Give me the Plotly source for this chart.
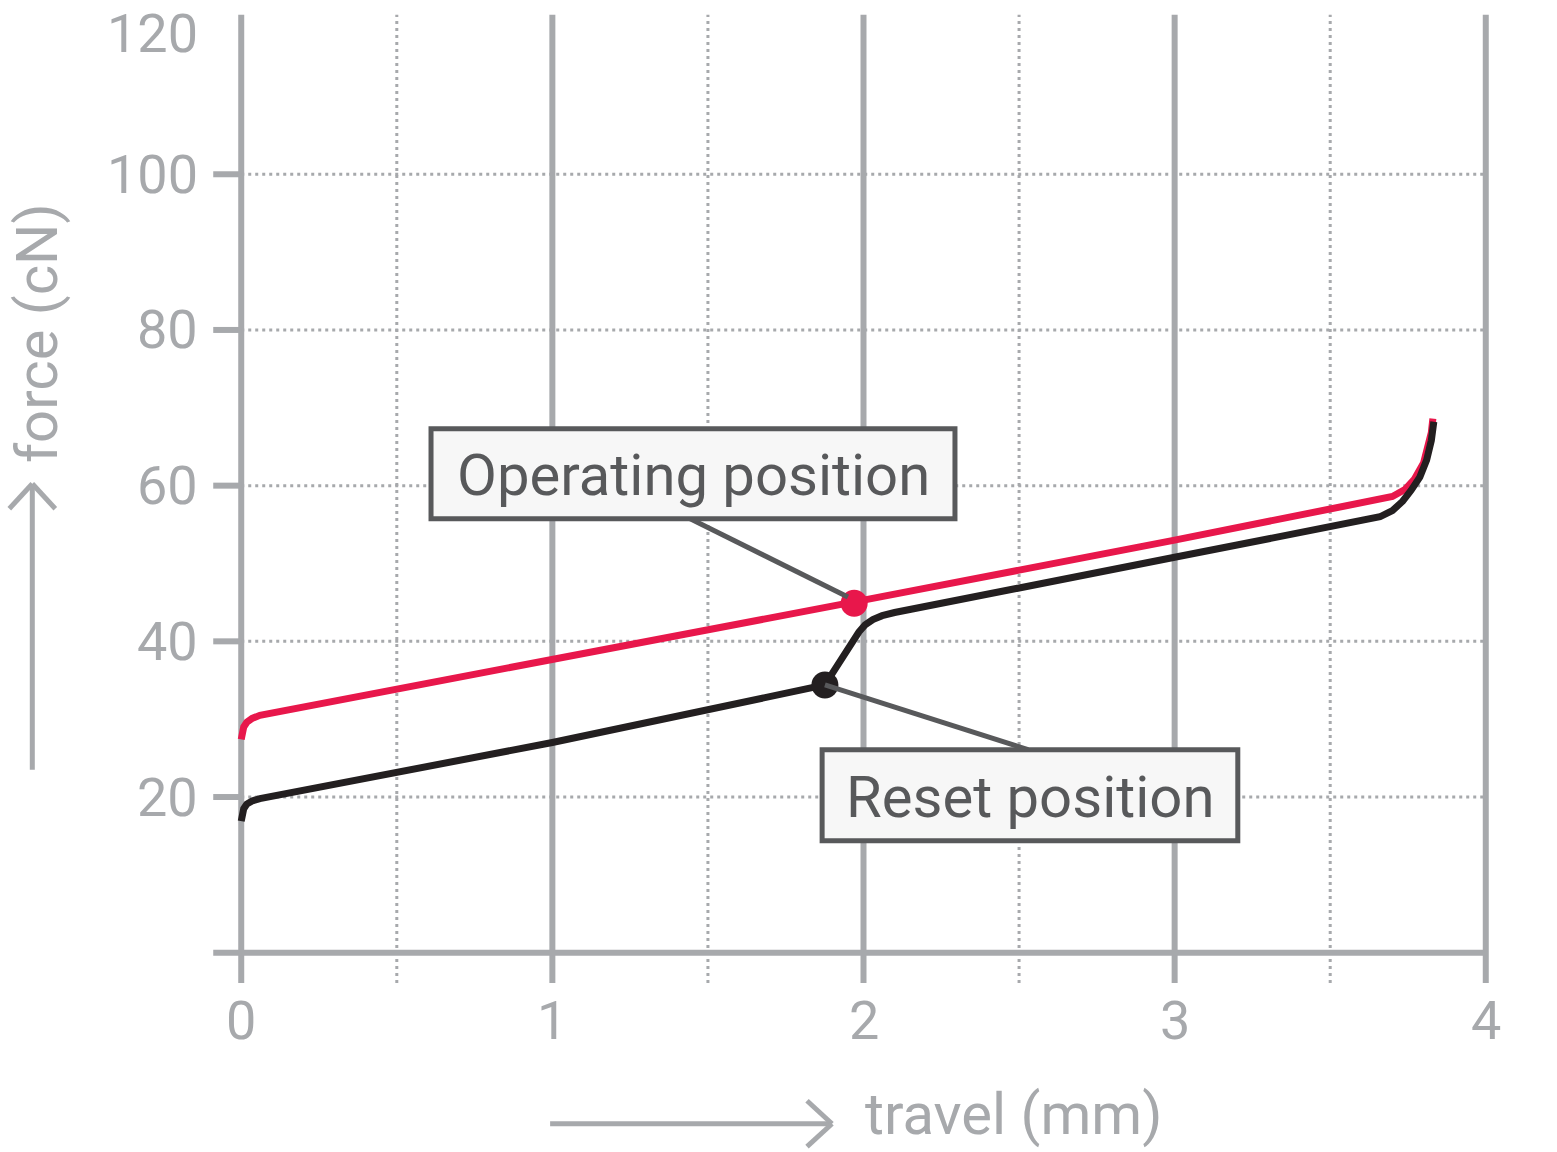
import plotly.graph_objects as go

# ---------------- data ----------------
operating_x = [0, 0.002, 0.008, 0.018, 0.035, 0.06, 1.0, 2.0, 3.0, 3.6, 3.70, 3.74, 3.77, 3.80, 3.815, 3.825, 3.83]
operating_y = [27.4, 28.3, 29.0, 29.6, 30.1, 30.5, 37.6, 45.3, 53.0, 57.7, 58.6, 59.5, 60.8, 62.9, 64.8, 66.8, 68.6]

reset_x = [0, 0.002, 0.008, 0.018, 0.035, 0.06, 1.0, 1.876, 1.96, 1.985, 2.005, 2.03, 2.06, 2.1, 3.0, 3.6, 3.66,
           3.70, 3.733, 3.76, 3.788, 3.81, 3.825, 3.833]
reset_y = [16.9, 17.8, 18.5, 19.1, 19.5, 19.8, 27.0, 34.4, 39.8, 41.2, 42.1, 42.8, 43.3, 43.7, 50.8, 55.4, 56.0,
           56.8, 58.0, 59.4, 61.1, 63.3, 65.8, 68.2]

operating_point = (1.97, 44.9)
reset_point = (1.876, 34.4)

x_ticks = [0, 1, 2, 3, 4]
x_minor = [0.5, 1.5, 2.5, 3.5]
y_ticks = [20, 40, 60, 80, 100]
y_labels = [20, 40, 60, 80, 100, 120]

# ---------------- styles ----------------
GRAY = "#a7a9ac"
DARK = "#58595b"
RED = "#e8174b"
BLACK = "#231f20"
FONT = "Roboto"

W, H = 1557, 1152
XS = 311.25   # px per mm
YS = 7.785    # px per cN
X0_PX = 241   # px of x=0
Y0_PX = 953   # px of y=0

X0, X1 = -0.2, 4.2
Y0, Y1 = -8, 122
ML = X0_PX + X0 * XS
PW = (X1 - X0) * XS
MR = W - ML - PW
MT = Y0_PX - Y1 * YS
PH = (Y1 - Y0) * YS
MB = H - MT - PH


def px2paper(px, py):
    """page pixel -> paper coordinates"""
    return (px - ML) / PW, (H - MB - py) / PH


fig = go.Figure()

shapes = []
for xv in x_ticks:
    shapes.append(dict(type="line", xref="x", yref="y", x0=xv, x1=xv, y0=-3.9, y1=120.5,
                       line=dict(color=GRAY, width=6), layer="below"))
for xv in x_minor:
    shapes.append(dict(type="line", xref="x", yref="y", x0=xv, x1=xv, y0=-3.9, y1=120.5,
                       line=dict(color=GRAY, width=3, dash="3px,4px"), layer="below"))
for yv in y_ticks:
    shapes.append(dict(type="line", xref="x", yref="y", x0=0, x1=4, y0=yv, y1=yv,
                       line=dict(color=GRAY, width=3, dash="3px,4px"), layer="below"))
    shapes.append(dict(type="line", xref="x", yref="y", x0=-0.09, x1=0, y0=yv, y1=yv,
                       line=dict(color=GRAY, width=6), layer="below"))
shapes.append(dict(type="line", xref="x", yref="y", x0=-0.09, x1=4.0, y0=0, y1=0,
                   line=dict(color=GRAY, width=6), layer="below"))

# label boxes
shapes.append(dict(type="rect", xref="x", yref="y", x0=0.610, x1=2.294, y0=55.75, y1=67.3,
                   line=dict(color=DARK, width=5), fillcolor="#f7f7f7", layer="above"))
shapes.append(dict(type="rect", xref="x", yref="y", x0=1.867, x1=3.203, y0=14.39, y1=26.08,
                   line=dict(color=DARK, width=5), fillcolor="#f7f7f7", layer="above"))


def seg(p1, p2, width=5):
    a = px2paper(*p1)
    b = px2paper(*p2)
    return dict(type="line", xref="paper", yref="paper", x0=a[0], y0=a[1], x1=b[0], y1=b[1],
                line=dict(color=GRAY, width=width))


shapes.append(seg((550, 1124), (831, 1124)))
shapes.append(seg((807, 1101), (832, 1124)))
shapes.append(seg((807, 1147), (832, 1124)))
shapes.append(seg((32, 770), (32, 485)))
shapes.append(seg((9, 509), (32, 484)))
shapes.append(seg((55, 509), (32, 484)))

fig.add_trace(go.Scatter(x=operating_x, y=operating_y, mode="lines",
                         line=dict(color=RED, width=7), hoverinfo="skip"))
fig.add_trace(go.Scatter(x=reset_x, y=reset_y, mode="lines",
                         line=dict(color=BLACK, width=7), hoverinfo="skip"))
fig.add_trace(go.Scatter(x=[operating_point[0]], y=[operating_point[1]], mode="markers",
                         marker=dict(color=RED, size=27), hoverinfo="skip"))
fig.add_trace(go.Scatter(x=[reset_point[0]], y=[reset_point[1]], mode="markers",
                         marker=dict(color=BLACK, size=27), hoverinfo="skip"))
fig.add_trace(go.Scatter(x=[1.443, operating_point[0] - 0.02], y=[55.75, operating_point[1] + 0.8],
                         mode="lines", line=dict(color=DARK, width=5), hoverinfo="skip"))
fig.add_trace(go.Scatter(x=[reset_point[0], 2.529], y=[reset_point[1], 26.08],
                         mode="lines", line=dict(color=DARK, width=5), hoverinfo="skip"))

annotations = []
for yv in y_labels:
    py_px = 953 - yv * YS
    if yv == 120:
        py_px += 15
    px, py = px2paper(200, py_px)
    annotations.append(dict(x=px, y=py, xref="paper", yref="paper", text=str(yv), showarrow=False,
                            xanchor="right", yanchor="middle",
                            font=dict(family=FONT, size=54, color=GRAY)))
for xv in x_ticks:
    px, py = px2paper(241 + xv * XS, 1021)
    annotations.append(dict(x=px, y=py, xref="paper", yref="paper", text=str(xv), showarrow=False,
                            xanchor="center", yanchor="middle",
                            font=dict(family=FONT, size=54, color=GRAY)))

annotations.append(dict(x=(0.610 + 2.294) / 2, y=(55.75 + 67.3) / 2 - 0.2, xref="x", yref="y",
                        text="Operating position", showarrow=False, xanchor="center", yanchor="middle",
                        font=dict(family=FONT, size=58, color=DARK)))
annotations.append(dict(x=(1.867 + 3.203) / 2, y=(14.39 + 26.08) / 2 - 0.2, xref="x", yref="y",
                        text="Reset position", showarrow=False, xanchor="center", yanchor="middle",
                        font=dict(family=FONT, size=58, color=DARK)))

tx, ty = px2paper(1014, 1114)
annotations.append(dict(x=tx, y=ty, xref="paper", yref="paper", text="travel (mm)", showarrow=False,
                        xanchor="center", yanchor="middle", font=dict(family=FONT, size=58, color=GRAY)))
yx, yy = px2paper(36, 333)
annotations.append(dict(x=yx, y=yy, xref="paper", yref="paper", text="force (cN)", showarrow=False,
                        textangle=-90, xanchor="center", yanchor="middle",
                        font=dict(family=FONT, size=58, color=GRAY)))

fig.update_layout(
    width=W, height=H, autosize=False,
    margin=dict(l=ML, r=MR, t=MT, b=MB, pad=0),
    paper_bgcolor="white", plot_bgcolor="white",
    showlegend=False,
    xaxis=dict(range=[X0, X1], visible=False, fixedrange=True),
    yaxis=dict(range=[Y0, Y1], visible=False, fixedrange=True),
    shapes=shapes, annotations=annotations,
)

fig.write_html("out.html", config={"displayModeBar": False},
               post_script="document.body.style.margin='0';")
